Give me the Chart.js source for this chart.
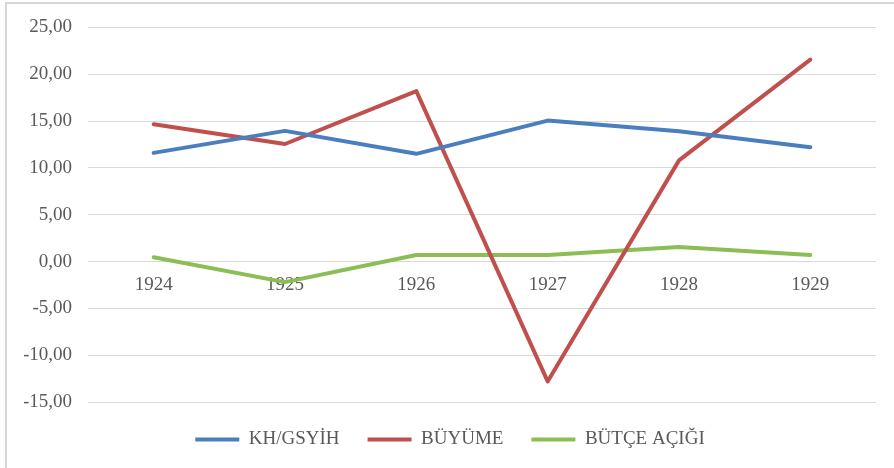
<!DOCTYPE html>
<html>
<head>
<meta charset="utf-8">
<script src="https://cdn.jsdelivr.net/npm/chart.js@4/dist/chart.umd.min.js"></script>
<style>
  html, body { margin: 0; padding: 0; background: #ffffff; overflow: hidden; }
  #wrap { position: relative; width: 894px; height: 468px; }
  #frame { position: absolute; left: 5px; top: 2px; width: 1000px; height: 1000px;
           border-left: 2px solid #d6d6d6; border-top: 2px solid #d6d6d6; }
  canvas { position: absolute; left: 0; top: 0; }
</style>
</head>
<body>
<div id="wrap">
  <div id="frame"></div>
  <canvas id="c" width="894" height="468"></canvas>
</div>
<script>
const years = ['1924', '1925', '1926', '1927', '1928', '1929'];
const khGsyih = [11.6, 13.95, 11.5, 15.05, 13.9, 12.2];
const buyume = [14.65, 12.55, 18.2, -12.8, 10.8, 21.55];
const butceAcigi = [0.45, -2.2, 0.7, 0.7, 1.55, 0.7];
const seriesNames = ['KH/GSYİH', 'BÜYÜME', 'BÜTÇE AÇIĞI'];
const yTicks = [25, 20, 15, 10, 5, 0, -5, -10, -15];

const colors = ['#4A7EBF', '#C0504D', '#8BBE55'];
const textColor = '#595959';
const fontFamily = '"Liberation Serif", "Times New Roman", serif';

function mk(label, data, color) {
  return {
    label: label, data: data,
    borderColor: color, backgroundColor: color,
    borderWidth: 4, pointRadius: 0, pointHoverRadius: 0,
    tension: 0, borderCapStyle: 'round', borderJoinStyle: 'round',
    fill: false
  };
}

new Chart(document.getElementById('c'), {
  type: 'line',
  data: {
    labels: years,
    datasets: [
      mk(seriesNames[0], khGsyih, colors[0]),
      mk(seriesNames[1], buyume, colors[1]),
      mk(seriesNames[2], butceAcigi, colors[2])
    ]
  },
  options: {
    responsive: false,
    animation: false,
    layout: { padding: { left: 24, right: 18, top: 25, bottom: 9 } },
    plugins: {
      tooltip: { enabled: false },
      legend: {
        position: 'bottom',
        labels: {
          boxWidth: 44, boxHeight: 4, padding: 28,
          color: textColor,
          font: { family: fontFamily, size: 19 },
          generateLabels: (chart) =>
            Chart.defaults.plugins.legend.labels.generateLabels(chart)
              .map(l => Object.assign(l, { lineWidth: 0 }))
        }
      }
    },
    scales: {
      x: {
        position: { y: 0 },
        offset: true,
        grid: { display: false, drawTicks: false },
        border: { display: false },
        ticks: { color: textColor, padding: 12, maxRotation: 0,
                 font: { family: fontFamily, size: 19 } }
      },
      y: {
        min: Math.min(...yTicks), max: Math.max(...yTicks),
        afterBuildTicks: (s) => { s.ticks = yTicks.slice().reverse().map(v => ({ value: v })); },
        afterFit: (s) => { s.width = 64; },
        grid: { color: '#d9d9d9', lineWidth: 1, drawTicks: false },
        border: { display: false },
        ticks: {
          color: textColor, padding: 16,
          font: { family: fontFamily, size: 19 },
          callback: (v) => Number(v).toFixed(2).replace('.', ',')
        }
      }
    }
  }
});
</script>
</body>
</html>
